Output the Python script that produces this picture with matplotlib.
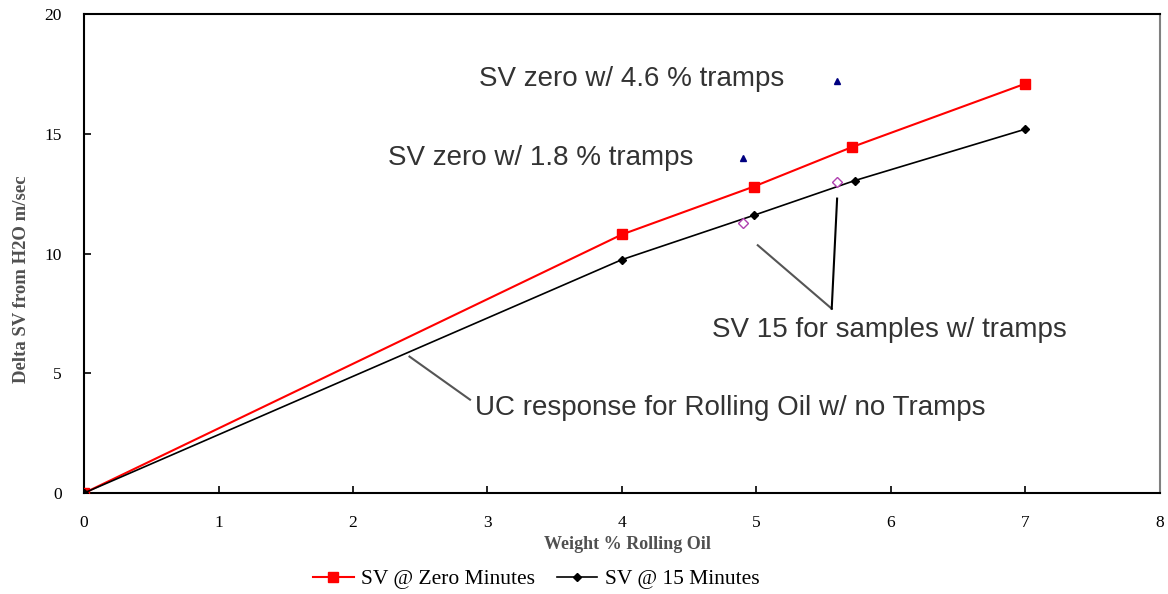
import numpy as np
import matplotlib.pyplot as plt

# data
x_zero = [0, 4, 4.98, 5.71, 7]
sv_zero = [0, 10.8, 12.8, 14.45, 17.1]
x_15 = [0, 4, 4.98, 5.73, 7]
sv_15 = [0, 9.75, 11.6, 13.05, 15.2]
tramps_x = [4.9, 5.6]
tramps_zero = [14.0, 17.2]
tramps_15 = [11.3, 13.0]

serif = ['Liberation Serif', 'DejaVu Serif']
sans = ['Liberation Sans', 'DejaVu Sans']

fig = plt.figure(figsize=(11.68, 5.94), dpi=100)
ax = fig.add_axes([0.072, 0.170, 0.921, 0.806])

ax.plot(x_zero, sv_zero, color='#ff0000', lw=1.5, marker='s', ms=7,
        label='SV @ Zero Minutes', zorder=3)
ax.plot(x_15, sv_15, color='black', lw=1.2, marker='D', ms=4,
        label='SV @ 15 Minutes', zorder=3)
ax.plot(tramps_x, tramps_zero, ls='none', marker='^', ms=5, color='#000080', zorder=4)
ax.plot(tramps_x, tramps_15, ls='none', marker='D', ms=5, mfc='white',
        mec='#b040b0', mew=1, zorder=4)

ax.set_xlim(0, 8)
ax.set_ylim(0, 20)
ax.set_xticks(range(0, 9))
ax.set_yticks(range(0, 21, 5))
ax.tick_params(direction='in', length=5, width=1.2, labelsize=12.5)
ax.tick_params(axis='x', pad=16)
ax.tick_params(axis='y', pad=16)
for lab in ax.get_xticklabels() + ax.get_yticklabels():
    lab.set_family(serif)
for s in ['left', 'bottom', 'top']:
    ax.spines[s].set_linewidth(1.5)
ax.spines['right'].set_color('#808080')
ax.spines['right'].set_linewidth(1.5)

ax.set_xlabel('Weight % Rolling Oil', family=serif, fontsize=13, fontweight='bold',
              color='#505050')
ax.set_ylabel('Delta SV from H2O m/sec', family=serif, fontsize=13.5, fontweight='bold',
              color='#505050')
ax.xaxis.set_label_coords(0.505, -0.09)
ax.yaxis.set_label_coords(-0.05, 0.447)

# annotations
ax.text(2.94, 17.3, 'SV zero w/ 4.6 % tramps', family=sans, fontsize=20,
        color='#333333', va='center')
ax.text(2.26, 14.0, 'SV zero w/ 1.8 % tramps', family=sans, fontsize=20,
        color='#333333', va='center')
ax.text(4.67, 6.8, 'SV 15 for samples w/ tramps', family=sans, fontsize=20,
        color='#333333', va='center')
ax.text(2.91, 3.55, 'UC response for Rolling Oil w/ no Tramps', family=sans, fontsize=20,
        color='#333333', va='center')
ax.plot([5.01, 5.56], [10.35, 7.7], color='#555555', lw=1.5)
ax.plot([5.6, 5.56], [12.3, 7.7], color='black', lw=1.5)
ax.plot([2.42, 2.87], [5.7, 3.9], color='#555555', lw=1.5)

fig.legend(loc='center', bbox_to_anchor=(0.459, 0.025), ncol=2, frameon=False,
           prop={'family': serif, 'size': 15.5}, handlelength=1.9,
           handletextpad=0.35, columnspacing=1.0)

fig.savefig('out.png', dpi=100)
